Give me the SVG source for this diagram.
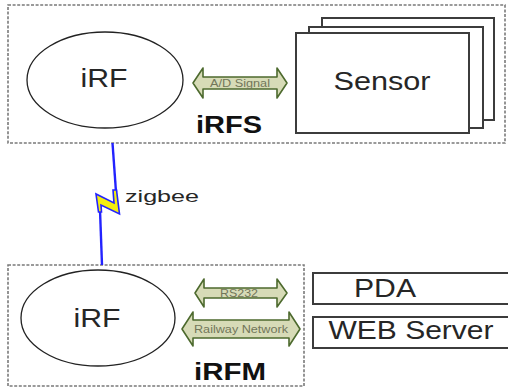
<svg xmlns="http://www.w3.org/2000/svg" width="508" height="389" viewBox="0 0 508 389">
  <style>
    .frame { fill: none; stroke: #7a7a7a; stroke-width: 1.6; stroke-dasharray: 3 1.6; }
    .oval { fill: #ffffff; stroke: #222222; stroke-width: 1.3; }
    .card { fill: #ffffff; stroke: #3c3c3c; stroke-width: 2; }
    .label { font-family: "Liberation Sans", Arial, sans-serif; fill: #262626; text-anchor: middle; }
    .big { font-size: 25px; }
    .bold { font-size: 23px; font-weight: bold; fill: #111111; }
    .link { fill: #d7dbb7; stroke: #4d6a2e; stroke-width: 1.6; stroke-linejoin: round; }
    .tag { font-family: "Liberation Sans", Arial, sans-serif; font-size: 10px; fill: #72765a; text-anchor: middle; }
    .bolt { fill: none; stroke: #2323ff; stroke-width: 2.4; stroke-linecap: butt; }
  </style>

  <!-- sensing unit -->
  <g id="irfs">
    <rect class="frame" x="8" y="5" width="497" height="138"/>
    <text class="label bold" x="229" y="133" textLength="66" lengthAdjust="spacingAndGlyphs">iRFS</text>
  </g>
  <g id="irf-s">
    <ellipse class="oval" cx="105" cy="80" rx="78" ry="48"/>
    <text class="label big" x="104" y="87" textLength="47" lengthAdjust="spacingAndGlyphs">iRF</text>
  </g>
  <g id="sensor">
    <rect class="card" x="322" y="18" width="172" height="102"/>
    <rect class="card" x="309" y="27" width="174" height="101"/>
    <rect class="card" x="296" y="33" width="173" height="100"/>
    <text class="label big" x="382" y="90" textLength="97" lengthAdjust="spacingAndGlyphs">Sensor</text>
  </g>

  <!-- monitoring unit -->
  <g id="irfm">
    <rect class="frame" x="8" y="265" width="296" height="121"/>
    <text class="label bold" x="230" y="380" textLength="72" lengthAdjust="spacingAndGlyphs">iRFM</text>
  </g>
  <g id="irf-m">
    <ellipse class="oval" cx="98" cy="318" rx="77" ry="48"/>
    <text class="label big" x="97" y="327" textLength="47" lengthAdjust="spacingAndGlyphs">iRF</text>
  </g>
  <g id="pda">
    <rect class="card" x="313" y="273" width="210" height="31"/>
    <text class="label big" x="385" y="297" textLength="62" lengthAdjust="spacingAndGlyphs">PDA</text>
  </g>
  <g id="web-server">
    <rect class="card" x="313" y="317" width="210" height="31"/>
    <text class="label big" x="411" y="339" textLength="165" lengthAdjust="spacingAndGlyphs">WEB Server</text>
  </g>

  <!-- links -->
  <g id="connectors">
    <!-- A/D Signal -->
    <polygon class="link" points="193,83 203,68 203,77 277,77 277,68 287,83 277,98 277,89 203,89 203,98"/>
    <text class="tag" x="240" y="87" textLength="60" lengthAdjust="spacingAndGlyphs">A/D Signal</text>
    <!-- RS232 -->
    <polygon class="link" points="195,293 204,279 204,288 277,288 277,279 287,293 277,307 277,298 204,298 204,307"/>
    <text class="tag" x="239" y="297" textLength="38" lengthAdjust="spacingAndGlyphs">RS232</text>
    <!-- Railway Network -->
    <polygon class="link" points="182,329 193,312 193,320 289,320 289,312 300,329 289,346 289,338 193,338 193,346"/>
    <text class="tag" x="241" y="333" textLength="94" lengthAdjust="spacingAndGlyphs">Railway Network</text>
    <!-- zigbee radio link: two blue blades joined by a yellow kink -->
    <line class="bolt" x1="112.5" y1="143" x2="116" y2="192"/>
    <line class="bolt" x1="100" y1="210" x2="102" y2="265"/>
    <polygon points="113,190 116.5,190 119.5,214 101,205 101.5,212 98.5,212 96,194 114,203" fill="#f4ee10" stroke="#2323ff" stroke-width="1.6" stroke-linejoin="miter"/>
    <text class="label" x="162" y="202" font-size="17" fill="#333333" textLength="74" lengthAdjust="spacingAndGlyphs">zigbee</text>
  </g>
</svg>
